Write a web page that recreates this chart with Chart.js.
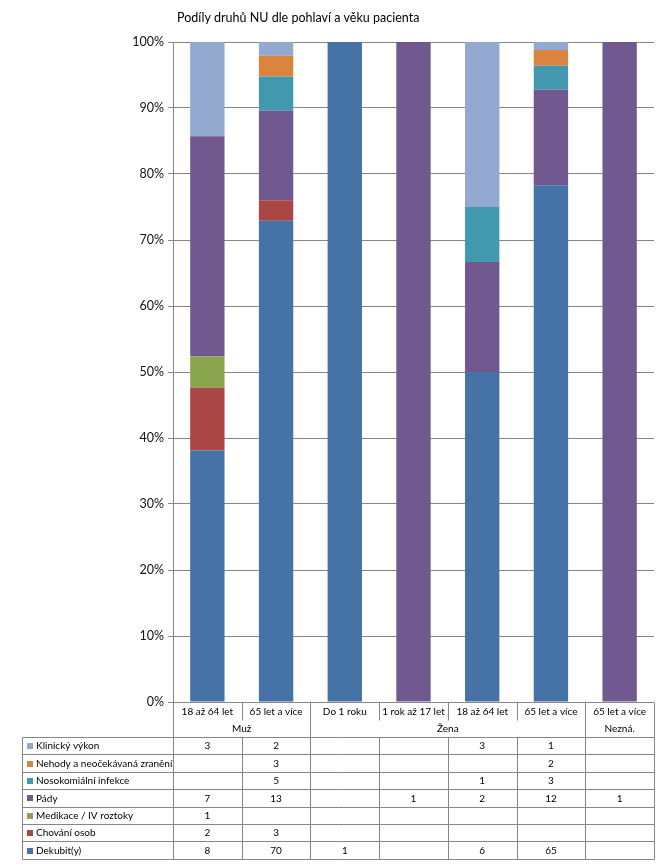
<!DOCTYPE html>
<html>
<head>
<meta charset="utf-8">
<script src="https://cdn.jsdelivr.net/npm/chart.js@4"></script>
<style>
  html, body { margin: 0; padding: 0; background: #fff; }
  #wrap { width: 667px; height: 866px; position: relative; }
</style>
</head>
<body>
<div id="wrap"><canvas id="chart" width="667" height="866"></canvas></div>
<script>
/* ===== DATA ===== */
const TITLE = "Podíly druhů NU dle pohlaví a věku pacienta";
const ageLabels = ["18 až 64 let", "65 let a více", "Do 1 roku", "1 rok až 17 let", "18 až 64 let", "65 let a více", "65 let a více"];
const groupLabels = ["Muž", "Žena", "Nezná."];
const groupSpans = [2, 4, 1];
const yTicks = [0, 10, 20, 30, 40, 50, 60, 70, 80, 90, 100];

// stack order, bottom to top
const seriesNames = ["Dekubit(y)", "Chování osob", "Medikace / IV roztoky", "Pády", "Nosokomiální infekce", "Nehody a neočekávaná zranění", "Klinický výkon"];
const dekubit   = [8, 70, 1, null, 6, 65, null];
const chovani   = [2, 3, null, null, null, null, null];
const medikace  = [1, null, null, null, null, null, null];
const pady      = [7, 13, null, 1, 2, 12, 1];
const noso      = [null, 5, null, null, 1, 3, null];
const nehody    = [null, 3, null, null, null, 2, null];
const klinicky  = [3, 2, null, null, 3, 1, null];
const seriesValues = [dekubit, chovani, medikace, pady, noso, nehody, klinicky];

/* ===== STYLE ===== */
const COLORS = ["#4572A7", "#AA4643", "#89A54E", "#71588F", "#4198AF", "#DB843D", "#93A9CF"];
const LINE = "#868686";
const FONT = "Lato";

/* ===== HELPERS ===== */
const totals = ageLabels.map((_, i) =>
  seriesValues.reduce((s, arr) => s + (arr[i] || 0), 0)
);

const datasets = seriesValues.map((arr, k) => ({
  label: seriesNames[k],
  data: arr.map((v, i) => (v ? (v / totals[i]) * 100 : 0)),
  backgroundColor: COLORS[k],
  borderWidth: 0,
  categoryPercentage: 0.5,
  barPercentage: 1,
}));

/* ===== TABLE + TITLE PLUGIN ===== */
const tablePlugin = {
  id: "dataTable",
  afterDraw(chart) {
    const { ctx, chartArea: a, scales } = chart;
    const x = scales.x;
    const n = ageLabels.length;
    const colW = x.getPixelForValue(1) - x.getPixelForValue(0);
    const edge = (i) => Math.round(x.getPixelForValue(i) - colW / 2) + 0.5;
    const right = Math.round(a.right) + 0.5;
    const left = 22.5;
    const top = Math.round(a.bottom) + 0.5;
    const headMid = top + 18;
    const bodyTop = top + 35;
    const rowH = 17.4;
    const rows = seriesNames.length;
    const bodyBottom = bodyTop + rows * rowH;
    const hline = (y) => {
      const yy = Math.round(y - 0.5) + 0.5;
      ctx.beginPath();
      ctx.moveTo(left, yy);
      ctx.lineTo(right, yy);
      ctx.stroke();
    };
    const vline = (xx, y1, y2) => {
      ctx.beginPath();
      ctx.moveTo(xx, y1);
      ctx.lineTo(xx, Math.round(y2 - 0.5) + 0.5);
      ctx.stroke();
    };

    ctx.save();
    // title
    ctx.fillStyle = "#000";
    ctx.font = `12.5px ${FONT}`;
    ctx.textAlign = "left";
    ctx.textBaseline = "middle";
    ctx.fillText(TITLE, 177, 18);

    ctx.strokeStyle = LINE;
    ctx.lineWidth = 1;

    // header + grid of the table
    vline(edge(0), top, bodyBottom);
    vline(right, top, bodyBottom);
    for (let i = 1; i < n; i++) vline(edge(i), top, headMid);
    let g = 0;
    groupSpans.forEach((span) => {
      g += span;
      if (g < n) vline(edge(g), headMid, bodyBottom);
    });
    for (let i = 1; i < n; i++) vline(edge(i), bodyTop, bodyBottom);
    vline(left, bodyTop, bodyBottom);
    for (let r = 0; r <= rows; r++) hline(bodyTop + r * rowH);

    ctx.fillStyle = "#000";
    ctx.font = `10px ${FONT}`;
    ctx.textAlign = "center";
    ctx.textBaseline = "middle";
    ageLabels.forEach((l, i) => ctx.fillText(l, x.getPixelForValue(i), top + 9));
    let start = 0;
    groupSpans.forEach((span, k) => {
      const cx = (x.getPixelForValue(start) + x.getPixelForValue(start + span - 1)) / 2;
      ctx.fillText(groupLabels[k], cx, top + 26.5);
      start += span;
    });

    // body rows, top row is last series
    for (let r = 0; r < rows; r++) {
      const k = rows - 1 - r;
      const cy = bodyTop + r * rowH + rowH / 2;
      ctx.fillStyle = COLORS[k];
      ctx.fillRect(27, Math.round(cy - 3), 6, 6);
      ctx.fillStyle = "#000";
      ctx.textAlign = "left";
      ctx.fillText(seriesNames[k], 36, cy);
      ctx.textAlign = "center";
      seriesValues[k].forEach((v, i) => {
        if (v) ctx.fillText(String(v), x.getPixelForValue(i), cy);
      });
    }
    ctx.restore();
  },
};

/* ===== CHART ===== */
new Chart(document.getElementById("chart"), {
  type: "bar",
  data: { labels: ageLabels, datasets },
  options: {
    responsive: false,
    animation: false,
    layout: { padding: { top: 42, right: 13, bottom: 164, left: 0 } },
    plugins: { legend: { display: false }, title: { display: false }, tooltip: { enabled: false } },
    scales: {
      x: { stacked: true, display: false },
      y: {
        stacked: true,
        min: 0,
        max: 100,
        afterFit: (s) => { s.width = 173; },
        afterBuildTicks: (s) => { s.ticks = yTicks.map((v) => ({ value: v })); },
        ticks: {
          padding: 4,
          color: "#111",
          font: { family: FONT, size: 12.5 },
          callback: (v) => v + "%",
        },
        grid: { color: LINE, tickLength: 5, drawOnChartArea: true },
        border: { display: true, color: LINE },
      },
    },
  },
  plugins: [tablePlugin],
});
</script>
</body>
</html>
